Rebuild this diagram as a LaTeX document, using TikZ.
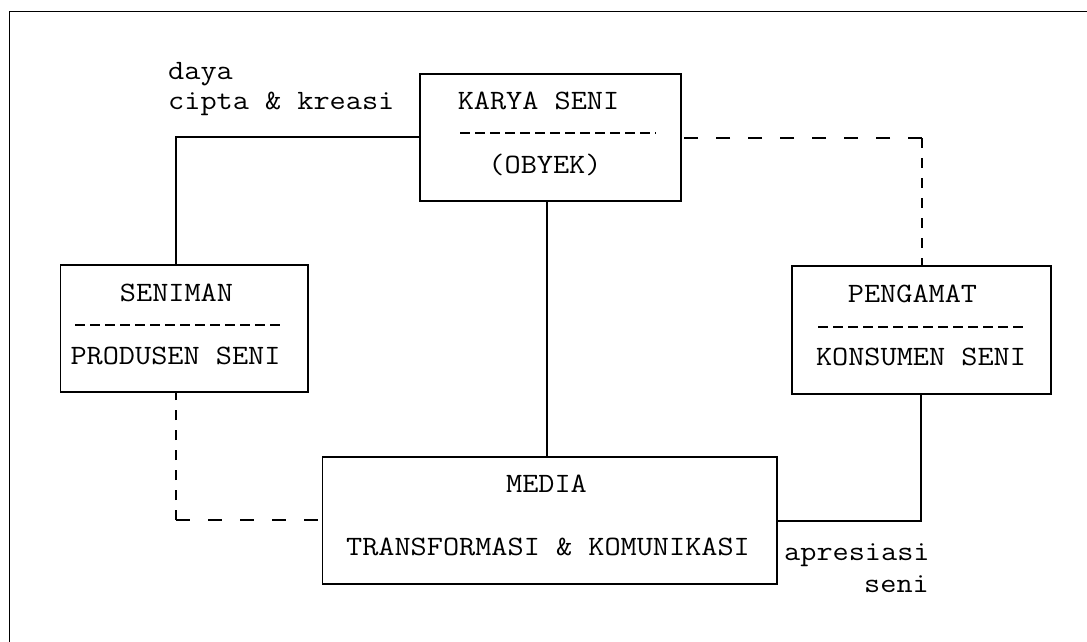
\documentclass[tikz,border=0pt]{standalone}
\usepackage{fontspec}
\setmainfont{Latin Modern Mono}[FakeStretch=1.12]
\begin{document}
\begin{tikzpicture}[x=1pt,y=-1pt,
  every node/.style={font=\fontsize{28}{30}\selectfont},
  box/.style={draw, line width=1.1pt, rectangle, inner sep=0pt},
  txt/.style={inner sep=0pt, anchor=base},
  sep/.style={line width=1.1pt, dash pattern=on 10pt off 5pt},
  link/.style={line width=1.1pt},
  hdash/.style={line width=1.1pt, dash pattern=on 14pt off 18pt},
  vdash/.style={line width=1.1pt, dash pattern=on 10pt off 10pt}]
\useasboundingbox (0,0) rectangle (1087,642);

% outer frame (top and left edges)
\draw[line width=1.1pt] (9.5,642) -- (9.5,11.5) -- (1087,11.5);

% boxes
\node[box, minimum width=261pt, minimum height=127pt] (karya) at (550.5,137.5) {};
\node[box, minimum width=247.5pt, minimum height=127pt] (seniman) at (184.25,328.5) {};
\node[box, minimum width=259pt, minimum height=128pt] (pengamat) at (921.5,330) {};
\node[box, minimum width=454.4pt, minimum height=127pt] (media) at (549.8,520.5) {};

% box texts
\node[txt] (karyaA) at (538.5,110) {KARYA SENI};
\node[txt] (karyaB) at (545,173) {(OBYEK)};
\draw[sep] (460,133) -- (656,133);

\node[txt] (senA) at (176.5,301) {SENIMAN};
\node[txt] (senB) at (175.5,364) {PRODUSEN SENI};
\draw[sep] (75,325) -- (282,325);

\node[txt] (penA) at (912.5,302) {PENGAMAT};
\node[txt] (penB) at (921,365) {KONSUMEN SENI};
\draw[sep] (818,327) -- (1024,327);

\node[txt] (medA) at (546.5,492) {MEDIA};
\node[txt] (medB) at (548,555) {TRANSFORMASI \& KOMUNIKASI};

% side labels
\node[txt, anchor=base west] (daya) at (168,80) {daya};
\node[txt, anchor=base west] (cipta) at (168,110) {cipta \& kreasi};
\node[txt, anchor=base west] (apr) at (784,560) {apresiasi};
\node[txt, anchor=base east] (seni) at (929,592) {seni};

% corner points of the connectors
\coordinate (c1) at (176,137);
\coordinate (c2) at (922,138);
\coordinate (c3) at (547,330);
\coordinate (c4) at (176,520);
\coordinate (c5) at (921,521);

% connectors
\draw[link] (karya.west |- c1) -- (c1) -- (c1 |- seniman.north);
\draw[link] (karya.south -| c3) -- (media.north -| c3);
\draw[link] (c5 |- pengamat.south) -- (c5) -- (c5 -| media.east);
\draw[hdash] (c2) -- (karya.east |- c2);
\draw[vdash] (c2) -- (c2 |- pengamat.north);
\draw[hdash] (c4) -- (c4 -| media.west);
\draw[vdash] (c4) -- (c4 |- seniman.south);
\end{tikzpicture}
\end{document}
